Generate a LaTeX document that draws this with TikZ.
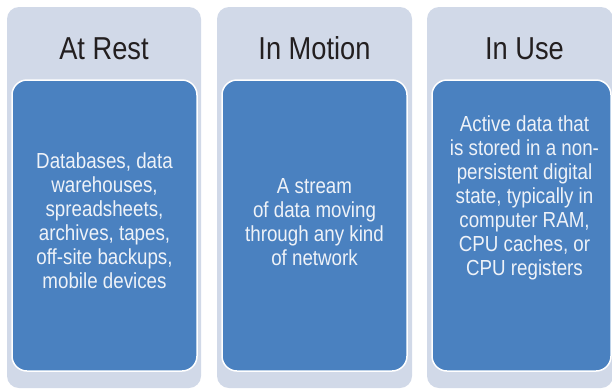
\documentclass[tikz,border=0pt]{standalone}
\usepackage{fontspec}
\setmainfont{Liberation Sans}
\newfontfamily\titlefont[FakeStretch=0.86]{Liberation Sans}
\newfontfamily\bodyfont[FakeStretch=0.86]{Liberation Sans}
\definecolor{outerfill}{HTML}{D1D9E8}
\definecolor{innerfill}{HTML}{4A81C0}
\definecolor{bodytext}{HTML}{EEF2F8}
\definecolor{titletext}{HTML}{231F20}
\begin{document}
\begin{tikzpicture}[x=1pt,y=-1pt,
  outerbox/.style={fill=outerfill, rounded corners=12pt},
  innerbox/.style={fill=innerfill, draw=white, line width=1.5pt, rounded corners=15pt},
  titlelabel/.style={font=\titlefont\fontsize{31.7}{36}\selectfont, text=titletext, anchor=base, inner sep=0pt},
  bodylabel/.style={font=\bodyfont\fontsize{21.8}{24}\selectfont, text=bodytext, align=center, anchor=north, inner sep=0pt}]
\useasboundingbox (0,0) rectangle (612,389);
\clip (0,0) rectangle (612,389);
% outer panels
\fill[outerbox] (7,7) rectangle (201,388);
\fill[outerbox] (217,7) rectangle (412,388);
\fill[outerbox] (427,7) rectangle (613,388);
% inner panels
\filldraw[innerbox] (12,80) rectangle (197,371);
\filldraw[innerbox] (222,80) rectangle (407,371);
\filldraw[innerbox] (432,80) rectangle (611,371);
% titles
\node[titlelabel] (t1) at (104,59.3) {At Rest};
\node[titlelabel] (t2) at (314.5,59.3) {In Motion};
\node[titlelabel] (t3) at (524.5,59.3) {In Use};
% bodies
\node[bodylabel] (b1) at (104.5,152.7) {Databases, data\\warehouses,\\spreadsheets,\\archives, tapes,\\off-site backups,\\mobile devices};
\node[bodylabel] (b2) at (314.5,178.3) {A stream\\of data moving\\through any kind\\of network};
\node[bodylabel] (b3) at (524.5,115.3) {Active data that\\is stored in a non-\\persistent digital\\state, typically in\\computer RAM,\\CPU caches, or\\CPU registers};
\end{tikzpicture}
\end{document}
